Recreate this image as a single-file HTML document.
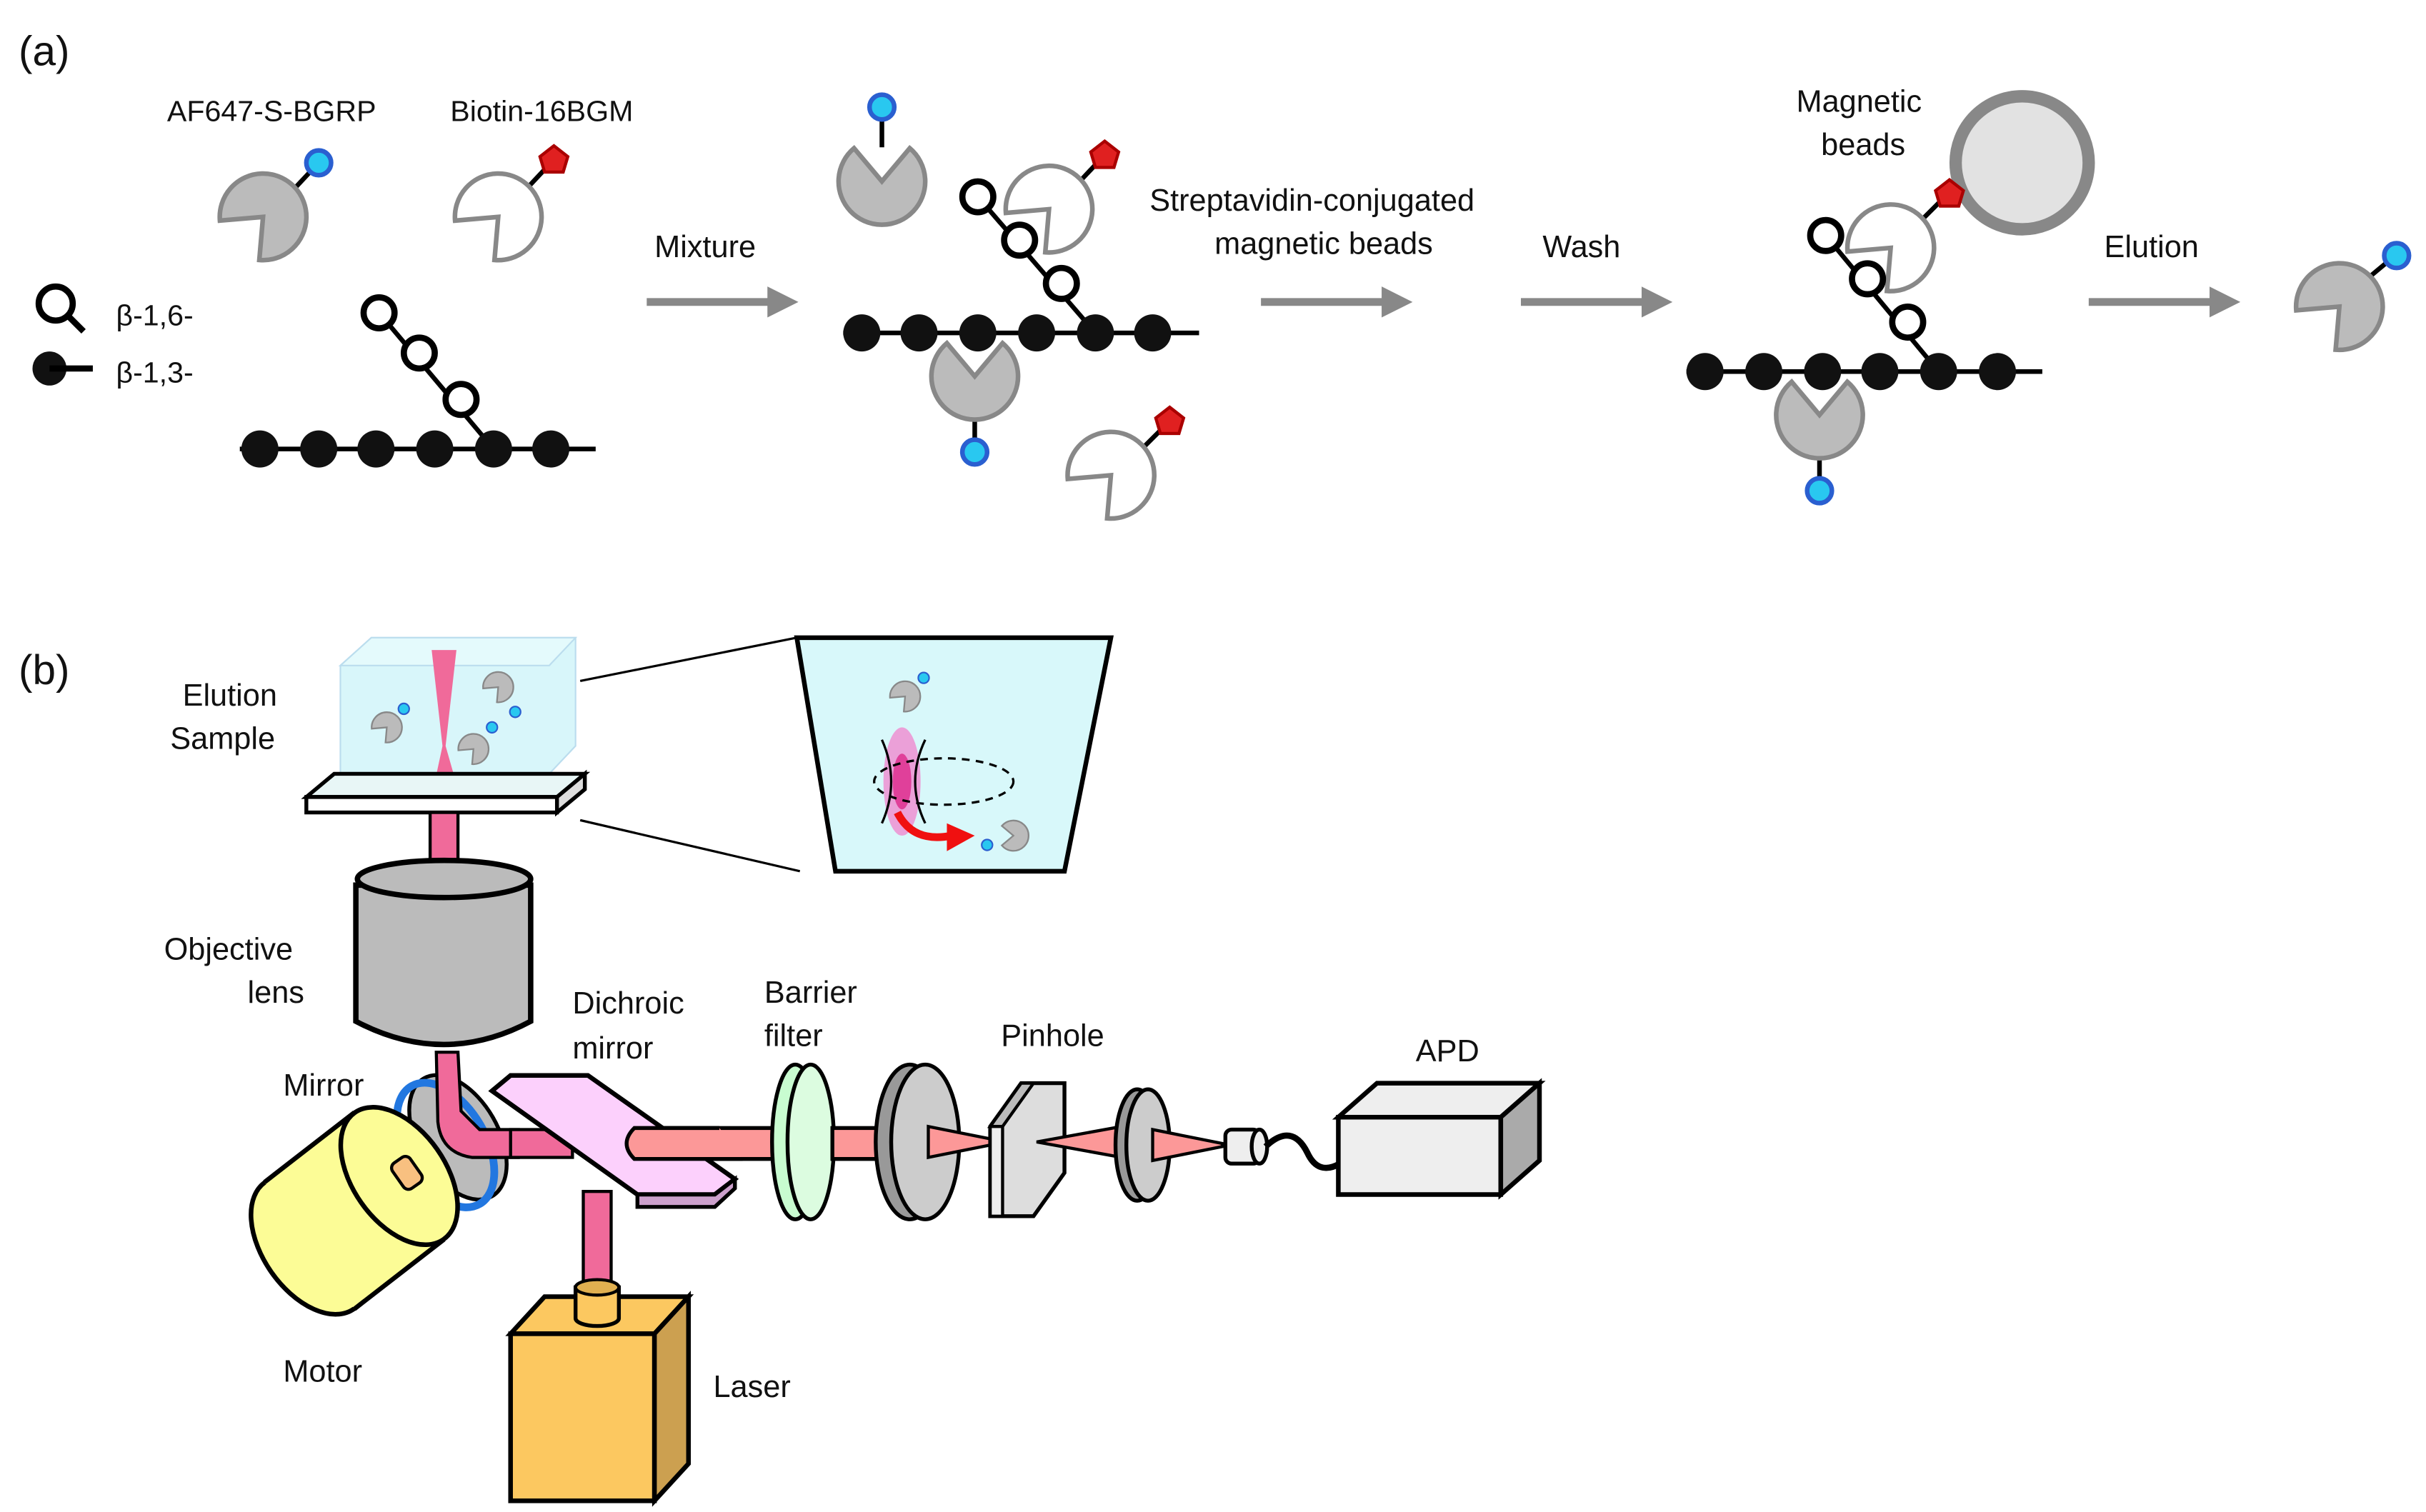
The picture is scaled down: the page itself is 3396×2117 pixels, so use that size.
<!DOCTYPE html>
<html><head><meta charset="utf-8"><style>
html,body{margin:0;padding:0;background:#fff;}
svg{display:block;}
text{font-family:"Liberation Sans",sans-serif;fill:#111;}
</style></head><body>
<svg width="3396" height="2117" viewBox="0 0 1568 977" xmlns="http://www.w3.org/2000/svg">
<defs>
<path id="pm" d="M0,0 L21.4,-18 A28,28 0 1,0 21.4,18 Z"/>
<marker id="ah" markerWidth="4" markerHeight="4" refX="2" refY="2" orient="auto"><path d="M0,0 L4,2 L0,4 Z" fill="#888"/></marker>
</defs>
<rect width="1568" height="977" fill="#fff"/>
<!-- (a) -->
<text x="12" y="42" font-size="27">(a)</text>
<text x="108" y="78" font-size="19">AF647-S-BGRP</text>
<text x="291" y="78" font-size="19">Biotin-16BGM</text>
<circle cx="1307" cy="105" r="43" fill="#e2e2e2" stroke="#888" stroke-width="8"/>
<g stroke="#000" stroke-width="3">
<line x1="190" y1="122" x2="205" y2="106"/><line x1="342" y1="120" x2="357" y2="104"/>
<line x1="570" y1="95" x2="570" y2="70"/><line x1="630" y1="265" x2="630" y2="292"/>
<line x1="697" y1="118" x2="713" y2="101"/><line x1="738" y1="290" x2="755" y2="273"/>
<line x1="1176" y1="290" x2="1176" y2="317"/><line x1="1242" y1="142" x2="1258" y2="126"/>
<line x1="1530" y1="180" x2="1548" y2="165"/>
</g>
<g fill="#bbb" stroke="#888" stroke-width="3">
<use href="#pm" transform="translate(170,140) rotate(135)"/>
<use href="#pm" transform="translate(570,117) rotate(-90)"/>
<use href="#pm" transform="translate(630,243) rotate(-90)"/>
<use href="#pm" transform="translate(1176,268) rotate(-90)"/>
<use href="#pm" transform="translate(1512,198) rotate(135)"/>
</g>
<g fill="#fff" stroke="#888" stroke-width="3">
<use href="#pm" transform="translate(322,140) rotate(135)"/>
<use href="#pm" transform="translate(678,135) rotate(135)"/>
<use href="#pm" transform="translate(718,307) rotate(135)"/>
<use href="#pm" transform="translate(1222,160) rotate(135)"/>
</g>
<g fill="#29c8f0" stroke="#2a5fd0" stroke-width="3">
<circle cx="206" cy="105" r="8"/><circle cx="570" cy="69" r="8"/><circle cx="630" cy="292" r="8"/>
<circle cx="1176" cy="317" r="8"/><circle cx="1549" cy="165" r="8"/>
</g>
<g fill="#e02020" stroke="#a00" stroke-width="2">
<polygon points="358,94 367,101 364,111 352,111 349,101"/>
<polygon points="714,91 723,98 720,108 708,108 705,98"/>
<polygon points="756,263 765,270 762,280 750,280 747,270"/>
<polygon points="1260,116 1269,123 1266,133 1254,133 1251,123"/>
</g>
<!-- legend -->
<circle cx="36" cy="196" r="11" fill="#fff" stroke="#000" stroke-width="4"/>
<line x1="44" y1="204" x2="54" y2="214" stroke="#000" stroke-width="4"/>
<text x="75" y="210" font-size="19">β-1,6-</text>
<circle cx="32" cy="238" r="11" fill="#111"/>
<line x1="32" y1="238" x2="60" y2="238" stroke="#000" stroke-width="4"/>
<text x="75" y="247" font-size="19">β-1,3-</text>
<!-- chains -->
<g stroke="#000" stroke-width="3">
<line x1="155" y1="290" x2="385" y2="290"/><line x1="319" y1="290" x2="245" y2="202"/>
<line x1="545" y1="215" x2="775" y2="215"/><line x1="708" y1="215" x2="632" y2="127"/>
<line x1="1090" y1="240" x2="1320" y2="240"/><line x1="1253" y1="240" x2="1180" y2="152"/>
</g>
<g fill="#111">
<circle cx="168" cy="290" r="12"/><circle cx="206" cy="290" r="12"/><circle cx="243" cy="290" r="12"/><circle cx="281" cy="290" r="12"/><circle cx="319" cy="290" r="12"/><circle cx="356" cy="290" r="12"/>
<circle cx="557" cy="215" r="12"/><circle cx="594" cy="215" r="12"/><circle cx="632" cy="215" r="12"/><circle cx="670" cy="215" r="12"/><circle cx="708" cy="215" r="12"/><circle cx="745" cy="215" r="12"/>
<circle cx="1102" cy="240" r="12"/><circle cx="1140" cy="240" r="12"/><circle cx="1178" cy="240" r="12"/><circle cx="1215" cy="240" r="12"/><circle cx="1253" cy="240" r="12"/><circle cx="1291" cy="240" r="12"/>
</g>
<g fill="#fff" stroke="#000" stroke-width="4">
<circle cx="298" cy="258" r="10"/><circle cx="271" cy="228" r="10"/><circle cx="245" cy="202" r="10"/>
<circle cx="686" cy="183" r="10"/><circle cx="659" cy="155" r="10"/><circle cx="632" cy="127" r="10"/>
<circle cx="1233" cy="208" r="10"/><circle cx="1207" cy="180" r="10"/><circle cx="1180" cy="152" r="10"/>
</g>
<text x="1161" y="72" font-size="20">Magnetic</text><text x="1177" y="100" font-size="20">beads</text>
<!-- arrows -->
<g stroke="#888" stroke-width="5" marker-end="url(#ah)">
<line x1="418" y1="195" x2="506" y2="195"/><line x1="815" y1="195" x2="903" y2="195"/>
<line x1="983" y1="195" x2="1071" y2="195"/><line x1="1350" y1="195" x2="1438" y2="195"/>
</g>
<text x="423" y="166" font-size="20">Mixture</text>
<text x="743" y="136" font-size="20">Streptavidin-conjugated</text>
<text x="785" y="164" font-size="20">magnetic beads</text>
<text x="997" y="166" font-size="20">Wash</text>
<text x="1360" y="166" font-size="20">Elution</text>
<!-- (b) -->
<text x="12" y="442" font-size="27">(b)</text>
<text x="118" y="456" font-size="20">Elution</text><text x="110" y="484" font-size="20">Sample</text>
<polygon points="220,430 240,412 372,412 372,482 355,500 220,500" fill="#d8f6fa" stroke="#bde" stroke-width="1"/>
<polygon points="220,430 240,412 372,412 355,430" fill="#e4fafc" stroke="#bde"/>
<path d="M279,420 L295,420 L288,482 L296,510 L280,510 L286,482 Z" fill="#f06a9a"/>
<polygon points="198,515 216,500 378,500 360,515" fill="#e8f6f6" stroke="#000" stroke-width="2.5"/>
<polygon points="198,515 360,515 360,525 198,525" fill="#fff" stroke="#000" stroke-width="2.5"/>
<polygon points="360,515 378,500 378,510 360,525" fill="#ddd" stroke="#000" stroke-width="2.5"/>
<line x1="375" y1="440" x2="515" y2="412" stroke="#000" stroke-width="1.5"/>
<line x1="375" y1="530" x2="517" y2="563" stroke="#000" stroke-width="1.5"/>
<polygon points="515,412 718,412 688,563 540,563" fill="#d8f8fa" stroke="#000" stroke-width="3"/>
<ellipse cx="583" cy="505" rx="12" ry="35" fill="#f08ad0" opacity="0.8"/>
<ellipse cx="583" cy="505" rx="6" ry="18" fill="#e0409a"/>
<path d="M570,478 Q582,505 570,532 M598,478 Q585,505 598,532" fill="none" stroke="#000" stroke-width="1.5"/>
<ellipse cx="610" cy="505" rx="45" ry="15" fill="none" stroke="#000" stroke-width="1.5" stroke-dasharray="5,4"/>
<path d="M580,525 Q590,545 615,540" fill="none" stroke="#f01010" stroke-width="5"/>
<polygon points="612,532 630,540 612,550" fill="#f01010"/>
<g fill="#bbb" stroke="#888" stroke-width="3">
<use href="#pm" transform="translate(250,470) scale(0.35) rotate(135)"/>
<use href="#pm" transform="translate(322,444) scale(0.35) rotate(135)"/>
<use href="#pm" transform="translate(306,484) scale(0.35) rotate(135)"/>
<use href="#pm" transform="translate(585,450) scale(0.35) rotate(135)"/>
<use href="#pm" transform="translate(655,540) scale(0.35) rotate(180)"/>
</g>
<g fill="#29c8f0" stroke="#2a5fd0" stroke-width="1"><circle cx="261" cy="458" r="3.5"/><circle cx="333" cy="460" r="3.5"/><circle cx="318" cy="470" r="3.5"/><circle cx="597" cy="438" r="3.5"/><circle cx="638" cy="546" r="3.5"/></g>
<!-- objective -->
<rect x="278" y="525" width="18" height="40" fill="#f06a9a" stroke="#000" stroke-width="2"/>
<path d="M230,572 L230,660 Q287,690 343,660 L343,572 Z" fill="#bbb" stroke="#000" stroke-width="3.5"/>
<ellipse cx="287" cy="568" rx="56" ry="12" fill="#bbb" stroke="#000" stroke-width="3.5"/>
<text x="106" y="620" font-size="20">Objective</text><text x="160" y="648" font-size="20">lens</text>
<!-- mirror -->
<ellipse cx="296" cy="735" rx="26" ry="44" transform="rotate(-30 296 735)" fill="#bbb" stroke="#000" stroke-width="2.5"/>
<ellipse cx="288" cy="740" rx="26" ry="44" transform="rotate(-30 288 740)" fill="none" stroke="#2277e0" stroke-width="5"/>
<path d="M282,680 L296,680 L298,718 L310,730 L335,730 L335,748 L305,748 Q285,745 283,725 Z" fill="#f06a9a" stroke="#000" stroke-width="2"/>
<!-- motor -->
<ellipse cx="200" cy="805" rx="30" ry="50" transform="rotate(-35 200 805)" fill="#fcfc96" stroke="#000" stroke-width="3"/>
<polygon points="229,719 287,801 229,846 171,764" fill="#fcfc96"/>
<line x1="229" y1="719" x2="171" y2="764" stroke="#000" stroke-width="3"/>
<line x1="287" y1="801" x2="229" y2="846" stroke="#000" stroke-width="3"/>
<ellipse cx="258" cy="760" rx="30" ry="50" transform="rotate(-35 258 760)" fill="#fcfc96" stroke="#000" stroke-width="3"/>
<rect x="256" y="748" width="14" height="20" rx="4" fill="#f8c080" stroke="#000" stroke-width="2" transform="rotate(-35 263 758)"/>
<text x="183" y="708" font-size="20">Mirror</text><text x="183" y="893" font-size="20">Motor</text>
<!-- laser -->
<rect x="377" y="770" width="18" height="65" fill="#f06a9a" stroke="#000" stroke-width="2"/>
<polygon points="330,862 352,838 445,838 423,862" fill="#fcc860" stroke="#000" stroke-width="3"/>
<rect x="330" y="862" width="93" height="108" fill="#fcc860" stroke="#000" stroke-width="3"/>
<polygon points="423,862 445,838 445,946 423,970" fill="#cca050" stroke="#000" stroke-width="3"/>
<path d="M372,832 L372,852 A14,5 0 0,0 400,852 L400,832 Z" fill="#fcc860" stroke="#000" stroke-width="2.5"/>
<ellipse cx="386" cy="832" rx="14" ry="5" fill="#e0b050" stroke="#000" stroke-width="2"/>
<text x="461" y="903" font-size="20">Laser</text>
<!-- emission beam -->
<rect x="330" y="730" width="40" height="18" fill="#f06a9a" stroke="#000" stroke-width="2"/>
<rect x="410" y="729" width="100" height="20" fill="#fc9898" stroke="#000" stroke-width="2.5"/>
<!-- dichroic -->
<polygon points="318,705 330,695 380,695 475,762 462,772 412,772" fill="#fcd0fc" stroke="#000" stroke-width="3"/>
<polygon points="412,772 462,772 475,762 475,768 462,780 412,780" fill="#cca0cc" stroke="#000" stroke-width="2.5"/>
<path d="M465,729 L410,729 Q400,739 410,749 L480,749" fill="#fc9898" stroke="#000" stroke-width="2.5"/>
<text x="370" y="655" font-size="20">Dichroic</text><text x="370" y="684" font-size="20">mirror</text>
<!-- barrier filter -->
<ellipse cx="514" cy="738" rx="15" ry="50" fill="#c8fcd0" stroke="#000" stroke-width="2.5"/>
<ellipse cx="524" cy="738" rx="15" ry="50" fill="#dcfce0" stroke="#000" stroke-width="2.5"/>
<rect x="538" y="729" width="40" height="20" fill="#fc9898" stroke="#000" stroke-width="2.5"/>
<text x="494" y="648" font-size="20">Barrier</text><text x="494" y="676" font-size="20">filter</text>
<!-- lens -->
<ellipse cx="588" cy="738" rx="22" ry="50" fill="#999" stroke="#000" stroke-width="2.5"/>
<ellipse cx="598" cy="738" rx="22" ry="50" fill="#ccc" stroke="#000" stroke-width="2.5"/>
<polygon points="600,728 600,748 640,740 640,736" fill="#fc9898" stroke="#000" stroke-width="2"/>
<!-- pinhole -->
<polygon points="640,728 660,700 688,700 688,758 668,786 640,786" fill="#ddd" stroke="#000" stroke-width="2.5"/>
<polygon points="640,728 660,700 668,700 648,728" fill="#bbb" stroke="#000" stroke-width="2"/>
<rect x="640" y="728" width="8" height="58" fill="#eee" stroke="#000" stroke-width="2"/>
<text x="647" y="676" font-size="20">Pinhole</text>
<polygon points="670,738 725,728 725,748" fill="#fc9898" stroke="#000" stroke-width="2"/>
<ellipse cx="735" cy="740" rx="14" ry="36" fill="#999" stroke="#000" stroke-width="2.5"/>
<ellipse cx="742" cy="740" rx="14" ry="36" fill="#ccc" stroke="#000" stroke-width="2.5"/>
<polygon points="745,730 745,750 790,741 790,739" fill="#fc9898" stroke="#000" stroke-width="2"/>
<rect x="792" y="730" width="22" height="22" rx="4" fill="#eee" stroke="#000" stroke-width="2.5"/>
<ellipse cx="814" cy="741" rx="5" ry="11" fill="#eee" stroke="#000" stroke-width="2.5"/>
<path d="M818,741 Q835,725 845,745 Q852,760 866,752" fill="none" stroke="#000" stroke-width="4"/>
<!-- APD -->
<polygon points="865,722 890,700 995,700 970,722" fill="#eee" stroke="#000" stroke-width="3"/>
<rect x="865" y="722" width="105" height="50" fill="#eee" stroke="#000" stroke-width="3"/>
<polygon points="970,722 995,700 995,750 970,772" fill="#aaa" stroke="#000" stroke-width="3"/>
<text x="915" y="686" font-size="20">APD</text>
</svg>
</body></html>
